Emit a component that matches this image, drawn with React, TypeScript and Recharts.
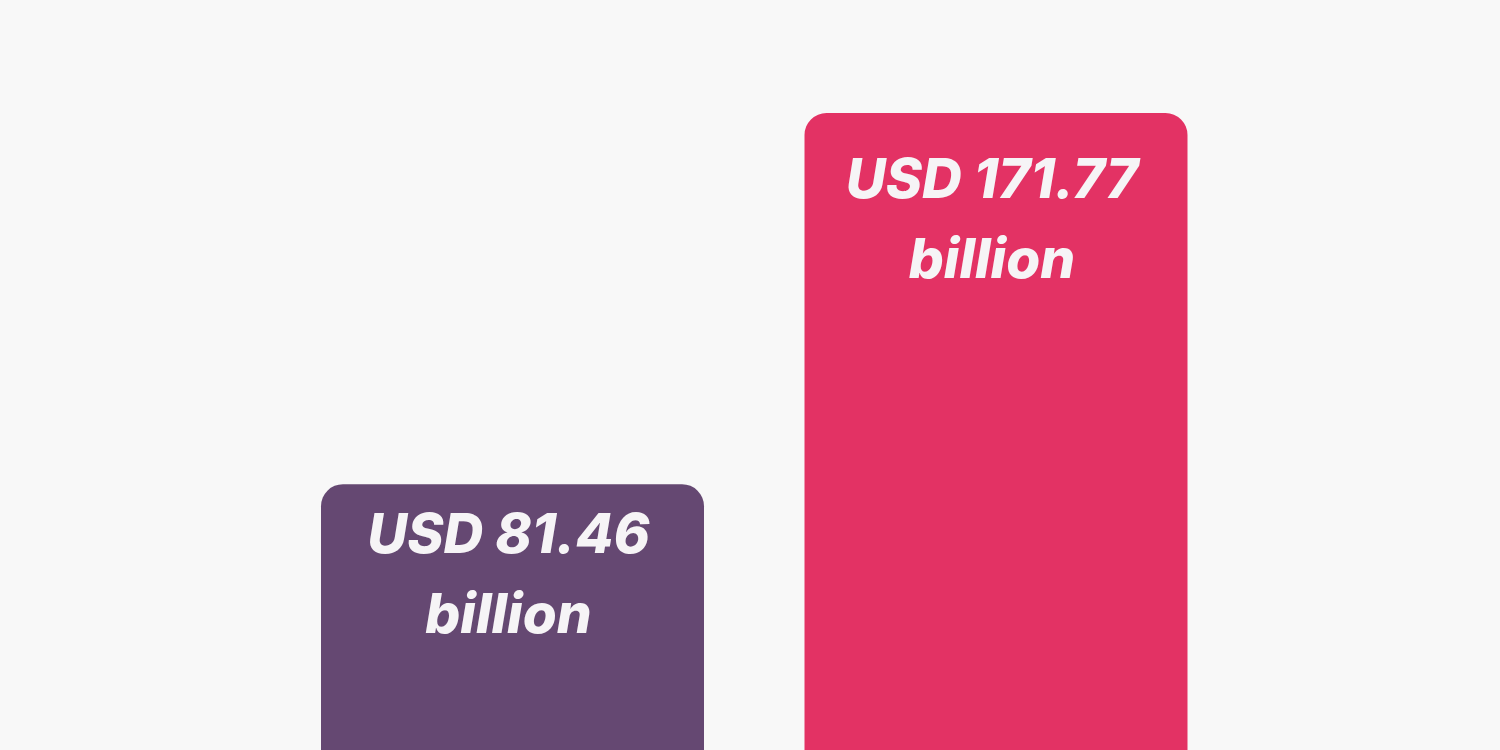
import { BarChart, Bar, XAxis, YAxis, Cell, LabelList } from "recharts";

const categories = ["Before", "After"];
const values = [81.46, 171.77];
const valueLabels = ["USD 81.46", "USD 171.77"];
const unitLabels = ["billion", "billion"];

const barColors = ["#654872", "#e33264"];
// first-line baseline offset below each bar's top edge
const labelTopOffsets = [69, 85];

const data = categories.map((name, i) => ({
  name,
  value: values[i],
  label: valueLabels[i],
  unit: unitLabels[i],
}));

function BarLabel(props: any) {
  const { x, y, width, index } = props;
  const cx = x + width / 2 - 4;
  const top = y + labelTopOffsets[index];
  const textStyle = {
    fill: "#f6f4f6",
    fontFamily: "Inter, 'Open Sans', sans-serif",
    fontWeight: 800,
    fontStyle: "italic" as const,
    fontSize: 55,
  };
  return (
    <g>
      <text x={cx} y={top} textAnchor="middle" {...textStyle}>
        {data[index].label}
      </text>
      <text x={cx} y={top + 80} textAnchor="middle" {...textStyle}>
        {data[index].unit}
      </text>
    </g>
  );
}

export default function App() {
  return (
    <div
      style={{
        position: "fixed",
        top: 0,
        left: 0,
        width: 1500,
        height: 750,
        overflow: "hidden",
        background: "#f8f8f8",
      }}
    >
      <BarChart
        width={1500}
        height={819}
        data={data}
        margin={{ top: 113, right: 262, bottom: 0, left: 271 }}
      >
        <XAxis dataKey="name" hide />
        <YAxis domain={[0, 171.77]} hide />
        <Bar
          dataKey="value"
          barSize={383}
          radius={[22, 22, 0, 0]}
          isAnimationActive={false}
        >
          {data.map((d, i) => (
            <Cell key={d.name} fill={barColors[i]} />
          ))}
          <LabelList dataKey="label" content={<BarLabel />} />
        </Bar>
      </BarChart>
    </div>
  );
}
